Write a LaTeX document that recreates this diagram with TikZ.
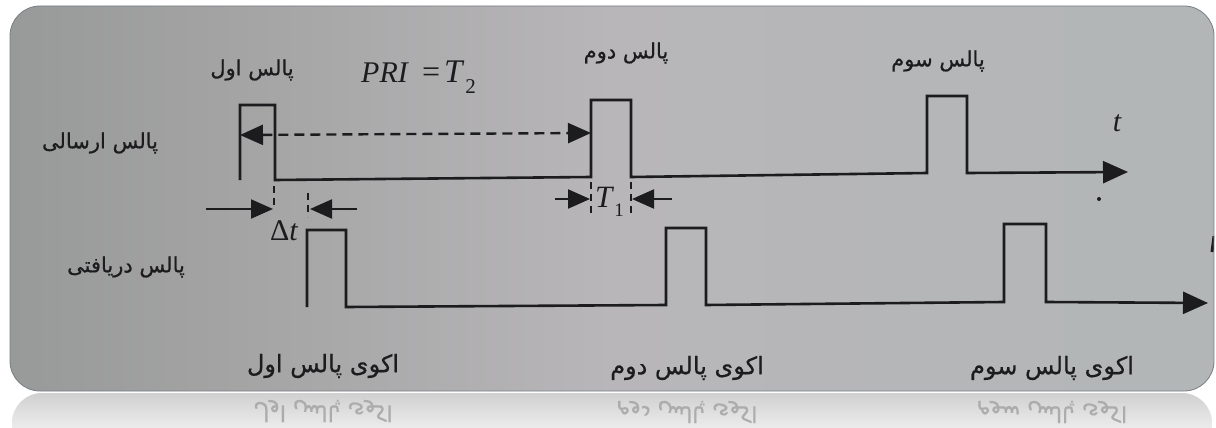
\documentclass[tikz,border=0pt]{standalone}
\usepackage{fontspec}
\setmainfont{Liberation Serif}
\newfontfamily\fa[Script=Arabic,FakeBold=0.6]{DejaVu Sans}
\TeXXeTstate=1
\usetikzlibrary{arrows.meta}
\definecolor{ink}{RGB}{28,28,30}
\definecolor{bgL}{RGB}{152,153,153}
\definecolor{bgM}{RGB}{184,182,184}
\definecolor{bgR}{RGB}{178,182,183}
\definecolor{reflTop}{RGB}{208,208,208}
\definecolor{reflBot}{RGB}{236,236,236}
\definecolor{refltext}{RGB}{172,172,172}
\definecolor{frameedge}{RGB}{120,126,132}
\tikzset{
  sig/.style={draw=ink, line width=2.6pt, line join=miter},
  dimarrow/.style={draw=ink, line width=2.2pt, -{Triangle[length=22pt,width=19pt]}},
  ticks/.style={draw=ink, line width=2pt, dash pattern=on 7pt off 5pt},
  dasharrow/.style={draw=ink, line width=2.4pt, dash pattern=on 10pt off 6pt,
     {Triangle[length=23pt,width=20pt]}-{Triangle[length=23pt,width=20pt]}},
  falabel/.style={text=ink, font=\fa\fontsize{21}{24}\selectfont, inner sep=0pt},
  falabelB/.style={text=ink, font=\fa\fontsize{24}{26}\selectfont, inner sep=0pt},
  reflabel/.style={text=refltext, font=\fa\fontsize{22}{24}\selectfont, inner sep=0pt, yscale=-1},
  mathlabel/.style={text=ink, inner sep=0pt}
}
\begin{document}
\begin{tikzpicture}[x=1pt,y=-1pt]
\useasboundingbox (0,0) rectangle (1216,428);
\fill[white] (0,0) rectangle (1216,428);

% reflection
\begin{scope}
  \clip[rounded corners=30pt] (12,393) rectangle (1212,480);
  \shade[top color=reflTop, bottom color=reflBot] (12,393) rectangle (1212,428);
  \node[reflabel] (r1) at (323,411) {\beginR اکوی پالس اول\endR};
  \node[reflabel] (r2) at (687,412) {\beginR اکوی پالس دوم\endR};
  \node[reflabel] (r3) at (1052,412) {\beginR اکوی پالس سوم\endR};
\end{scope}

% photo frame
\begin{scope}
  \clip[rounded corners=30pt] (10,6) rectangle (1214,391);
  \shade[left color=bgL, right color=bgR, middle color=bgM] (10,6) rectangle (1214,391);
  \coordinate (tcutA) at (1214,236);
  \coordinate (tcutB) at (1212,252);
  \draw[ink, line width=3pt] (tcutA) -- (tcutB);
\end{scope}
\draw[draw=frameedge, line width=0.8pt, rounded corners=30pt] (10,6) rectangle (1214,391);

% transmitted pulses
\coordinate (p1a) at (240,180);
\coordinate (p1b) at (240,105);
\coordinate (p1c) at (275,105);
\coordinate (p1d) at (275,180);
\coordinate (p2a) at (591,177);
\coordinate (p2b) at (591,100);
\coordinate (p2c) at (631,100);
\coordinate (p2d) at (631,177);
\coordinate (p3a) at (927,173);
\coordinate (p3b) at (927,96);
\coordinate (p3c) at (967,96);
\coordinate (p3d) at (967,173);
\coordinate (tend) at (1128,172);
\draw[sig, -{Triangle[length=25pt,width=22pt]}] (p1a) -- (p1b) -- (p1c) -- (p1d) -- (p2a) -- (p2b) -- (p2c) -- (p2d) -- (p3a) -- (p3b) -- (p3c) -- (p3d) -- (tend);

% received pulses
\coordinate (q1a) at (307,307);
\coordinate (q1b) at (307,230);
\coordinate (q1c) at (346,230);
\coordinate (q1d) at (346,307);
\coordinate (q2a) at (666,305);
\coordinate (q2b) at (666,228);
\coordinate (q2c) at (706,228);
\coordinate (q2d) at (706,305);
\coordinate (q3a) at (1004,302);
\coordinate (q3b) at (1004,224);
\coordinate (q3c) at (1046,224);
\coordinate (q3d) at (1046,302);
\coordinate (qend) at (1208,303);
\draw[sig, -{Triangle[length=25pt,width=22pt]}] (q1a) -- (q1b) -- (q1c) -- (q1d) -- (q2a) -- (q2b) -- (q2c) -- (q2d) -- (q3a) -- (q3b) -- (q3c) -- (q3d) -- (qend);

% PRI dashed arrow
\coordinate (d1) at (240,135);
\coordinate (d2) at (591,133);
\draw[dasharrow] (d1) -- (d2);

% Delta t
\coordinate (dt1a) at (274,186);
\coordinate (dt1b) at (274,210);
\coordinate (dt2a) at (308,193);
\coordinate (dt2b) at (308,217);
\draw[ticks] (dt1a) -- (dt1b);
\draw[ticks] (dt2a) -- (dt2b);
\coordinate (dtl) at (206,209);
\coordinate (dtr) at (357,209);
\coordinate (dtlt) at (273,209);
\coordinate (dtrt) at (310,209);
\draw[dimarrow] (dtl) -- (dtlt);
\draw[dimarrow] (dtr) -- (dtrt);
\node[mathlabel, font=\fontsize{30}{30}\selectfont, anchor=base west] (dt) at (270,240) {Δ\textit{t}};

% T1
\coordinate (t1a) at (591,182);
\coordinate (t1b) at (591,218);
\coordinate (t1c) at (631,182);
\coordinate (t1d) at (631,218);
\draw[ticks] (t1a) -- (t1b);
\draw[ticks] (t1c) -- (t1d);
\coordinate (tl) at (555,199);
\coordinate (tlt) at (590,199);
\coordinate (tr) at (672,199);
\coordinate (trt) at (632,199);
\draw[dimarrow] (tl) -- (tlt);
\draw[dimarrow] (tr) -- (trt);
\node[mathlabel, font=\fontsize{31}{31}\selectfont, anchor=base west] (T1) at (595,207) {\textit{T}\raisebox{-9pt}{\fontsize{19}{19}\selectfont 1}};

% PRI label
\node[mathlabel, font=\fontsize{30}{30}\selectfont, anchor=base west] (pri) at (361,83) {\textit{PRI}\hspace{13pt}{\fontsize{32}{32}\selectfont =}\hspace{4pt}{\fontsize{33}{33}\selectfont\textit{T}}\hspace{1pt}\raisebox{-10pt}{\fontsize{21}{21}\selectfont 2}};

% t label and dot
\node[mathlabel, font=\fontsize{30}{30}\selectfont\itshape, anchor=base] (tlab) at (1117,131) {t};
\coordinate (dot) at (1099,199);
\fill[ink] (dot) circle (2pt);

% Persian labels
\node[falabel] (pl1) at (252,70) {\beginR پالس اول\endR};
\node[falabel] (pl2) at (626,53) {\beginR پالس دوم\endR};
\node[falabel] (pl3) at (938,61) {\beginR پالس سوم\endR};
\node[falabel] (tx) at (100,143) {\beginR پالس ارسالی\endR};
\node[falabel] (rx) at (126,267) {\beginR پالس دریافتی\endR};
\node[falabelB] (e1) at (323,366) {\beginR اکوی پالس اول\endR};
\node[falabelB] (e2) at (687,368) {\beginR اکوی پالس دوم\endR};
\node[falabelB] (e3) at (1052,368) {\beginR اکوی پالس سوم\endR};
\end{tikzpicture}
\end{document}
